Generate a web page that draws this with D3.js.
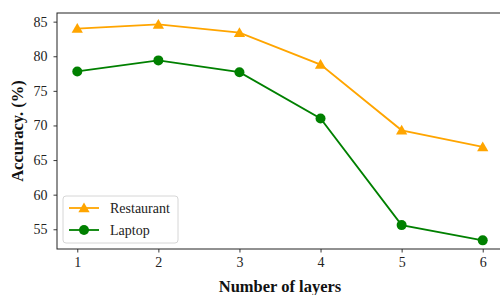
<!DOCTYPE html>
<html>
<head>
<meta charset="utf-8">
<script src="https://cdn.jsdelivr.net/npm/d3@7"></script>
<style>
  body { margin: 0; background: #fff; }
  svg { display: block; }
  svg text { font-family: "Liberation Serif", "Times New Roman", serif !important; }
</style>
</head>
<body>
<div id="chart"></div>
<script>
const width = 500;
const height = 295;

const layers = [1, 2, 3, 4, 5, 6];
const restaurant = [84.0, 84.6, 83.4, 78.8, 69.3, 66.9];
const laptop = [77.8, 79.4, 77.7, 71.0, 55.6, 53.4];
const yTicks = [55, 60, 65, 70, 75, 80, 85];

const margin = { top: 13, right: -3, bottom: 46, left: 57 };

const svg = d3.select("#chart").append("svg").attr("width", width).attr("height", height);

const x = d3.scaleLinear().domain([0.75, 6.25]).range([margin.left, width - margin.right]);
const y = d3.scaleLinear().domain([52.15, 86.25]).range([height - margin.bottom, margin.top]);

// axes
const xAxis = svg.append("g")
    .attr("transform", `translate(0,${height - margin.bottom})`)
    .call(d3.axisBottom(x).tickValues(layers).tickSize(3.5).tickPadding(5).tickFormat(d3.format("d")));
const yAxis = svg.append("g")
    .attr("transform", `translate(${margin.left},0)`)
    .call(d3.axisLeft(y).tickValues(yTicks).tickSize(3.5).tickPadding(6));

[xAxis, yAxis].forEach(g => {
    g.attr("font-size", null).attr("font-family", null);
    g.select(".domain").remove();
    g.selectAll("line").attr("stroke", "#222").attr("stroke-width", 0.9);
    g.selectAll("text").style("font-size", "14px").attr("fill", "#222");
});

// frame (right side runs off the canvas)
svg.append("rect")
    .attr("x", margin.left).attr("y", margin.top)
    .attr("width", x(6.25) - margin.left).attr("height", y(52.15) - margin.top)
    .attr("fill", "none").attr("stroke", "#222").attr("stroke-width", 1);

const series = [
    { name: "Restaurant", values: restaurant, color: "orange", marker: "triangle" },
    { name: "Laptop", values: laptop, color: "green", marker: "circle" }
];

const line = d3.line().x((d, i) => x(layers[i])).y(d => y(d));
const tri = d3.symbol().type(d3.symbolTriangle).size(55);

function drawMarker(g, s, cx, cy) {
    if (s.marker === "triangle") {
        g.append("path").attr("d", tri()).attr("transform", `translate(${cx},${cy + 1})`).attr("fill", s.color);
    } else {
        g.append("circle").attr("cx", cx).attr("cy", cy).attr("r", 5).attr("fill", s.color);
    }
}

series.forEach(s => {
    svg.append("path").datum(s.values)
        .attr("d", line).attr("fill", "none")
        .attr("stroke", s.color).attr("stroke-width", 1.8);
    const g = svg.append("g");
    s.values.forEach((v, i) => drawMarker(g, s, x(layers[i]), y(v)));
});

// legend
const legend = svg.append("g").attr("transform", "translate(63,196)");
legend.append("rect").attr("width", 115).attr("height", 47).attr("rx", 3)
    .attr("fill", "#fff").attr("fill-opacity", 0.8).attr("stroke", "#d6d6d6").attr("stroke-width", 1);
series.forEach((s, i) => {
    const ly = 12 + i * 22;
    legend.append("line").attr("x1", 6).attr("x2", 36).attr("y1", ly).attr("y2", ly)
        .attr("stroke", s.color).attr("stroke-width", 1.8);
    drawMarker(legend, s, 21, ly);
    legend.append("text").attr("x", 47).attr("y", ly + 5)
        .style("font-size", "14px").attr("fill", "#222").text(s.name);
});

// axis titles
svg.append("text")
    .attr("x", 280).attr("y", 292)
    .attr("text-anchor", "middle").style("font-size", "16.5px").attr("font-weight", "bold")
    .attr("fill", "#111").text("Number of layers");
svg.append("text")
    .attr("transform", `translate(23,${(margin.top + height - margin.bottom) / 2}) rotate(-90)`)
    .attr("text-anchor", "middle").style("font-size", "16.5px").attr("font-weight", "bold")
    .attr("fill", "#111").text("Accuracy. (%)");
</script>
</body>
</html>
